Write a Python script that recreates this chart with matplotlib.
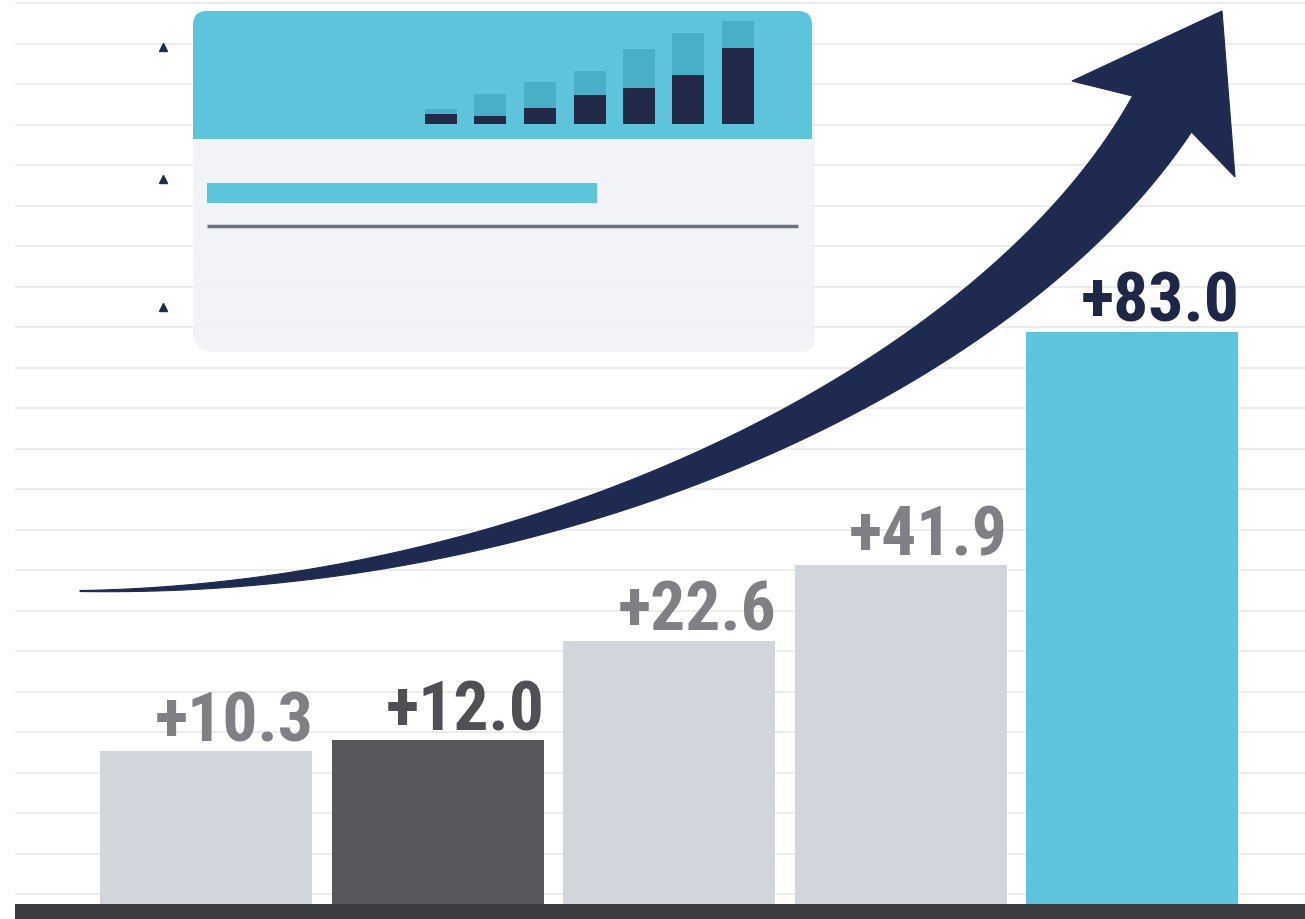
import numpy as np
import matplotlib.pyplot as plt
from matplotlib import font_manager
from matplotlib.patches import FancyBboxPatch, Rectangle, Polygon

# Data
labels = ['+10.3', '+12.0', '+22.6', '+41.9', '+83.0']
values = [10.3, 12.0, 22.6, 41.9, 83.0]
# drawn bar heights, in gridline steps (the picture is not to scale)
bar_heights = [3.85, 4.12, 6.57, 8.44, 14.2]

# small chart inside the card (pixel-ish units)
mini_dark = [10, 8, 16, 29, 36, 49, 76]
mini_total = [15, 30, 42, 53, 75, 91, 103]

# styles
bar_colors = ['#d2d5db', '#58575c', '#d2d5db', '#d2d5db', '#5ec4dd']
label_colors = ['#7e8084', '#505054', '#7e8084', '#7e8084', '#1e2745']
navy = '#1e2a4f'
cyan = '#5ec4dc'


def pick_narrow_font():
    fonts = font_manager.fontManager.ttflist
    names = {f.name for f in fonts}
    for name in ['Liberation Sans Narrow', 'Roboto Condensed', 'Open Sans Condensed',
                 'Noto Sans Condensed', 'DejaVu Sans Condensed']:
        if name in names:
            return dict(family=[name, 'DejaVu Sans'])
    for f in fonts:
        if 'Condensed' in f.name or 'Narrow' in f.name:
            return dict(family=[f.name, 'DejaVu Sans'])
    for f in fonts:
        if str(f.stretch) in ('condensed', 'semi-condensed', 'extra-condensed'):
            return dict(family=[f.name, 'DejaVu Sans'], stretch=f.stretch)
    return dict(family=['DejaVu Sans'], stretch='condensed')


narrow = pick_narrow_font()

W, H = 1305, 920
fig = plt.figure(figsize=(W / 100, H / 100), dpi=100)
fig.patch.set_facecolor('white')

# main axes, 1 y-unit = 40.5 px, bar pitch = 231.5 px
ax = fig.add_axes([0, 0, 1, 1])
px_x, px_y = 231.5, 40.5
x0 = -206 / px_x
ax.set_xlim(x0, x0 + W / px_x)
ax.set_ylim(-12 / px_y, -12 / px_y + H / px_y)
ax.axis('off')

# faint background grid
grid_y = 0.32 + np.arange(23)
ax.hlines(grid_y, x0 + 15 / px_x, x0 + W / px_x, colors='#ececec', lw=1.4, zorder=0)

x = np.arange(len(values))
width = 212 / px_x
ax.bar(x, bar_heights, width=width, color=bar_colors, zorder=2)

# dark base line
ax.axhspan(-12 / px_y, 3 / px_y, xmin=15 / W, xmax=1, color='#3b3c40', zorder=3, lw=0)

for xi, h, lab, c in zip(x, bar_heights, labels, label_colors):
    ax.text(xi + width / 2 + 0.005, h + 0.27, lab, ha='right', va='baseline',
            fontsize=50, fontweight='bold', color=c, zorder=4, **narrow)

# decoration layer in pixel coordinates
deco = fig.add_axes([0, 0, 1, 1], zorder=5)
deco.set_xlim(0, W)
deco.set_ylim(H, 0)
deco.axis('off')
deco.patch.set_alpha(0)

# card
shadow = FancyBboxPatch((196, 17), 619, 336, boxstyle='round,pad=0,rounding_size=14',
                        fc='#e8eaee', ec='none', alpha=0.5)
deco.add_patch(shadow)
card = FancyBboxPatch((193, 12), 619, 336, boxstyle='round,pad=0,rounding_size=14',
                      fc='#f1f3f6', ec='none', alpha=0.93)
deco.add_patch(card)
top = FancyBboxPatch((193, 12), 619, 128, boxstyle='round,pad=0,rounding_size=14',
                     fc=cyan, ec='none')
deco.add_patch(top)
deco.add_patch(Rectangle((193, 110), 619, 30, fc=cyan, ec='none'))
deco.add_patch(Rectangle((207, 184), 390, 20, fc=cyan, ec='none'))
deco.plot([207, 798], [227, 227], color='#6d7378', lw=2.5, solid_capstyle='butt')

deco.plot([163, 163, 163], [48, 180, 308], ls='none', marker='^', ms=6, color=navy)

# curved arrow
P0 = np.array([80, 592])
P1 = np.array([560, 592])
P3 = np.array([1162, 115])
tang = np.array([36, -59]) / np.hypot(36, 59)
P2 = P3 - tang * 300
t = np.linspace(0, 1, 300)[:, None]
pts = (1 - t) ** 3 * P0 + 3 * (1 - t) ** 2 * t * P1 + 3 * (1 - t) * t ** 2 * P2 + t ** 3 * P3
d = 3 * (1 - t) ** 2 * (P1 - P0) + 6 * (1 - t) * t * (P2 - P1) + 3 * t ** 2 * (P3 - P2)
d = d / np.linalg.norm(d, axis=1)[:, None]
n = np.column_stack([-d[:, 1], d[:, 0]])
w = 1 + 68 * t[:, 0] ** 1.1
side_a = pts + n * w[:, None] / 2
side_b = pts - n * w[:, None] / 2
head = np.array([[1235, 178], [1222, 12], [1072, 82]])
poly = np.vstack([side_a, head, side_b[::-1]])
deco.add_patch(Polygon(poly, closed=True, fc=navy, ec=navy, lw=0.8))

# mini bar chart inside the card
mini = fig.add_axes([400 / W, (H - 125) / H, 380 / W, 105 / H], zorder=6)
mini.patch.set_alpha(0)
mini.axis('off')
mx0 = -(441 - 400) / 49.5
mini.set_xlim(mx0, mx0 + 380 / 49.5)
mini.set_ylim(0, 105)
mx = np.arange(len(mini_dark))
mini_top = [tt - dd for tt, dd in zip(mini_total, mini_dark)]
mini.bar(mx, mini_dark, width=32 / 49.5, color='#222a48')
mini.bar(mx, mini_top, bottom=mini_dark, width=32 / 49.5, color='#48afc6')

fig.savefig('out.png', dpi=100)
